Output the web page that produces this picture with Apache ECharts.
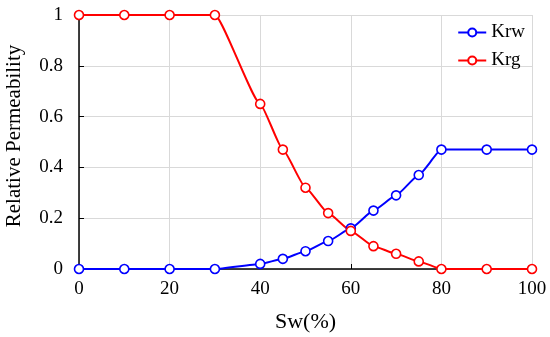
<!DOCTYPE html>
<html><head><meta charset="utf-8">
<script src="https://cdn.jsdelivr.net/npm/echarts@6/dist/echarts.min.js"></script>
<style>html,body{margin:0;padding:0;background:#fff}#c{width:550px;height:337px}</style>
</head><body><div id="c"></div>
<script>
var sw = [0,10,20,30,40,45,50,55,60,65,70,75,80,90,100];
var krw = [0,0,0,0,0.02,0.04,0.07,0.11,0.16,0.23,0.29,0.37,0.47,0.47,0.47];
var krg = [1,1,1,1,0.65,0.47,0.32,0.22,0.15,0.09,0.06,0.03,0,0,0];
var xTicks = [0,20,40,60,80,100];
var yTicks = [0,0.2,0.4,0.6,0.8,1];
var font = 'Liberation Serif';
function pairs(v){return sw.map(function(x,i){return [x,v[i]];});}
var chart = echarts.init(document.getElementById('c'));
function ser(name,color,vals){
  return {name:name,type:'line',data:pairs(vals),smooth:0.15,smoothMonotone:'x',
    symbol:'circle',symbolSize:9,showAllSymbol:true,
    lineStyle:{color:color,width:2},
    itemStyle:{color:'#fff',borderColor:color,borderWidth:1.6}};
}
chart.setOption({
  animation:false,
  textStyle:{fontFamily:font},
  grid:{left:79,right:18,top:15,bottom:68,containLabel:false,outerBoundsMode:'none'},
  legend:{right:20,top:18,orient:'vertical',itemGap:9,itemWidth:28,itemHeight:10,
    textStyle:{fontFamily:font,fontSize:19,color:'#000'},
    data:['Krw','Krg']},
  xAxis:{type:'value',min:0,max:100,interval:20,name:'Sw(%)',nameLocation:'middle',nameGap:42,
    nameTextStyle:{fontFamily:font,fontSize:22,color:'#000'},
    axisLine:{onZero:false,lineStyle:{color:'#000',width:1.5}},
    axisTick:{show:true,inside:true,length:5,lineStyle:{color:'#000'}},
    axisLabel:{fontFamily:font,fontSize:19,color:'#000',margin:11,
      formatter:function(v){return xTicks.indexOf(v)>=0?String(v):'';}},
    splitLine:{show:true,lineStyle:{color:'#d9d9d9',width:1}}},
  yAxis:{type:'value',min:0,max:1,interval:0.2,name:'Relative Permeability',nameLocation:'middle',nameGap:54,
    nameTextStyle:{fontFamily:font,fontSize:21,color:'#000',padding:[0,0,0,12]},
    axisLine:{show:true,lineStyle:{color:'#000',width:1.5}},
    axisTick:{show:true,inside:true,length:5,lineStyle:{color:'#000'}},
    axisLabel:{fontFamily:font,fontSize:19,color:'#000',margin:16,
      formatter:function(v){var r=Math.round(v*10)/10;return String(r);}},
    splitLine:{show:true,lineStyle:{color:'#d9d9d9',width:1}}},
  series:[ser('Krw','#0000ff',krw),ser('Krg','#ff0000',krg)]
});
</script></body></html>
